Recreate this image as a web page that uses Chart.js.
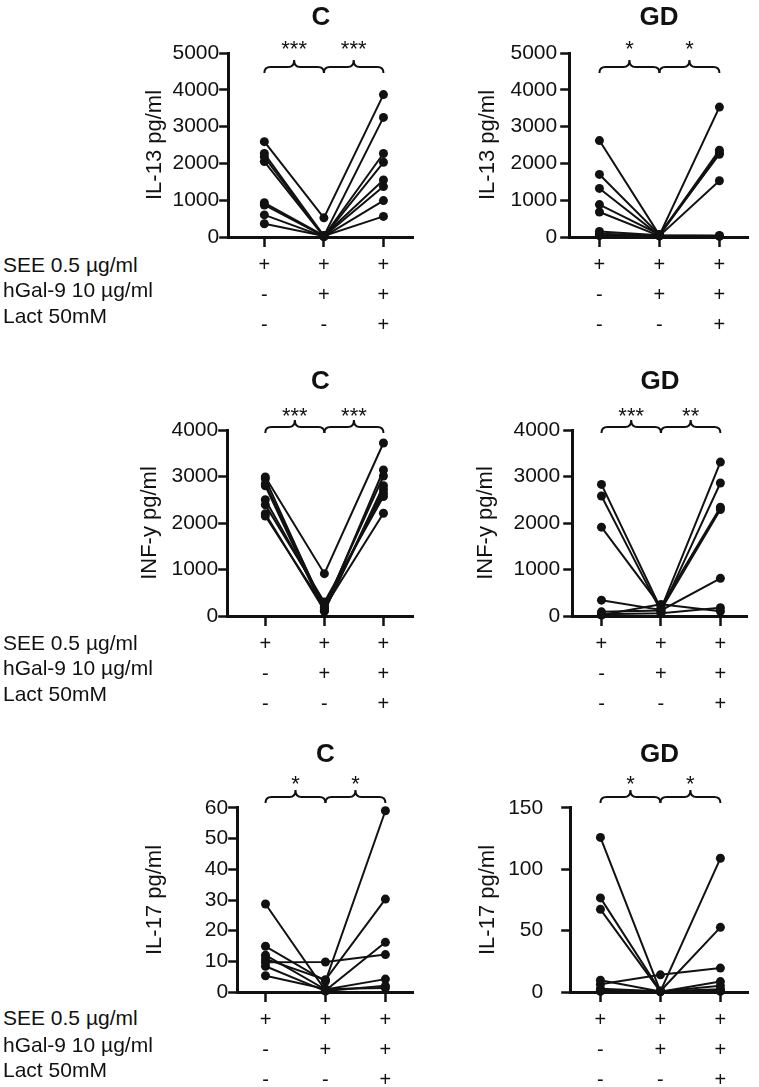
<!DOCTYPE html>
<html>
<head>
<meta charset="utf-8">
<script src="https://cdn.jsdelivr.net/npm/chart.js@4.4.1/dist/chart.umd.min.js"></script>
<style>
  body { margin: 0; background: #fff; width: 759px; height: 1087px; position: relative; overflow: hidden;
         font-family: "Liberation Sans", Arial, sans-serif; }
  .pan { position: absolute; }
  .lbl { position: absolute; left: 3px; font-size: 21px; line-height: 24px; color: #111; white-space: nowrap; }
</style>
</head>
<body>
<script>
// conditions (x categories) and the +/- table under each panel
const conditionNames = ['SEE 0.5 µg/ml', 'hGal-9 10 µg/ml', 'Lact 50mM'];
const categorySigns = [['+', '-', '-'], ['+', '+', '-'], ['+', '+', '+']];

// IL-13, C
const il13C_see  = [2590, 2270, 2180, 2050, 930, 870, 600, 360];
const il13C_gal  = [520, 30, 20, 10, 40, 20, 10, 30];
const il13C_lact = [3870, 3250, 2270, 2030, 1550, 1370, 990, 560];
// IL-13, GD
const il13GD_see  = [2620, 1700, 1320, 880, 680, 150, 90, 40];
const il13GD_gal  = [50, 60, 40, 70, 30, 50, 40, 30];
const il13GD_lact = [3530, 2360, 2290, 2250, 1530, 40, 30, 20];
// INF-y, C
const infC_see  = [2990, 2950, 2840, 2800, 2500, 2390, 2200, 2150];
const infC_gal  = [910, 150, 200, 100, 250, 300, 120, 180];
const infC_lact = [3720, 3140, 3010, 2800, 2640, 2570, 2720, 2210];
// INF-y, GD
const infGD_see  = [2830, 2580, 1910, 340, 90, 40, 20];
const infGD_gal  = [150, 100, 200, 130, 120, 60, 250];
const infGD_lact = [3310, 2860, 2340, 2290, 810, 180, 100];
// IL-17, C
const il17C_see  = [28.7, 14.9, 12.0, 10.8, 9.7, 8.4, 5.3];
const il17C_gal  = [0.5, 3.5, 0.8, 4.0, 9.8, 0.3, 1.0];
const il17C_lact = [16.2, 59.1, 4.2, 30.3, 12.2, 2.0, 1.3];
// IL-17, GD
const il17GD_see  = [126, 76.7, 67.4, 9.6, 6.3, 2.7, 1.4, 0.5];
const il17GD_gal  = [0.5, 0.8, 0.3, 0.5, 14, 0.6, 0.4, 0.3];
const il17GD_lact = [109, 52.7, 8.5, 5.0, 19.5, 2.2, 1.4, 0.5];

const starsIL13C = ['***', '***'];
const starsIL13GD = ['*', '*'];
const starsINFC = ['***', '***'];
const starsINFGD = ['***', '**'];
const starsIL17C = ['*', '*'];
const starsIL17GD = ['*', '*'];

// layout of each panel (page pixels)
const panels = [
  { title: 'C', yTitle: 'IL-13 pg/ml', data: [il13C_see, il13C_gal, il13C_lact], yMax: 5000, yStep: 1000, stars: starsIL13C,
    yTitleX: 155, right: 418, top: 0, height: 345, axisX: 228, chartTop: 53, chartBottom: 237, titleY: 18,
    xMin: -0.607, xMax: 2.508, braceY: 67, starY: 45, tickPad: 0 },
  { title: 'GD', yTitle: 'IL-13 pg/ml', data: [il13GD_see, il13GD_gal, il13GD_lact], yMax: 5000, yStep: 1000, stars: starsIL13GD,
    yTitleX: 488, right: 753, top: 0, height: 345, axisX: 569, chartTop: 53, chartBottom: 237, titleY: 18,
    xMin: -0.504, xMax: 2.488, braceY: 67, starY: 45, tickPad: 3 },
  { title: 'C', yTitle: 'INF-y pg/ml', data: [infC_see, infC_gal, infC_lact], yMax: 4000, yStep: 1000, stars: starsINFC,
    yTitleX: 150, right: 418, top: 350, height: 372, axisX: 227, chartTop: 430, chartBottom: 616, titleY: 382,
    xMin: -0.645, xMax: 2.512, braceY: 427, starY: 412, tickPad: 0 },
  { title: 'GD', yTitle: 'INF-y pg/ml', data: [infGD_see, infGD_gal, infGD_lact], yMax: 4000, yStep: 1000, stars: starsINFGD,
    yTitleX: 486, right: 752, top: 350, height: 372, axisX: 572, chartTop: 430, chartBottom: 616, titleY: 382,
    xMin: -0.492, xMax: 2.459, braceY: 427, starY: 412, tickPad: 3 },
  { title: 'C', yTitle: 'IL-17 pg/ml', data: [il17C_see, il17C_gal, il17C_lact], yMax: 60, yStep: 10, stars: starsIL17C,
    yTitleX: 155, right: 418, top: 725, height: 362, axisX: 237, chartTop: 808, chartBottom: 992, titleY: 755,
    xMin: -0.472, xMax: 2.472, braceY: 797, starY: 780, tickPad: 0 },
  { title: 'GD', yTitle: 'IL-17 pg/ml', data: [il17GD_see, il17GD_gal, il17GD_lact], yMax: 150, yStep: 50, stars: starsIL17GD,
    yTitleX: 488, right: 753, top: 725, height: 362, axisX: 570, chartTop: 808, chartBottom: 992, titleY: 755,
    xMin: -0.504, xMax: 2.472, braceY: 797, starY: 780, tickPad: 18 }
];
const labelRowsY = [[265, 290, 316], [643, 668, 694], [1018, 1045, 1070]];

const FONT = '"Liberation Sans", Arial, sans-serif';
const INK = '#111';

// curly brackets + significance stars above the pairs
const bracePlugin = {
  id: 'braces',
  afterDraw(chart) {
    const p = chart.options.plugins.braces;
    const ctx = chart.ctx;
    const x = chart.scales.x;
    ctx.save();
    ctx.strokeStyle = INK;
    ctx.lineWidth = 2;
    ctx.fillStyle = INK;
    ctx.font = '22px ' + FONT;
    ctx.textAlign = 'center';
    ctx.textBaseline = 'middle';
    [[0, 1], [1, 2]].forEach(([a, b], i) => {
      const xa = x.getPixelForValue(a), xb = x.getPixelForValue(b), xm = (xa + xb) / 2;
      const y = p.y, r = 6;
      ctx.beginPath();
      ctx.moveTo(xa, y + r);
      ctx.quadraticCurveTo(xa, y, xa + r, y);
      ctx.lineTo(xm - r, y);
      ctx.quadraticCurveTo(xm, y, xm, y - r - 1);
      ctx.quadraticCurveTo(xm, y, xm + r, y);
      ctx.lineTo(xb - r, y);
      ctx.quadraticCurveTo(xb, y, xb, y + r);
      ctx.stroke();
      ctx.fillText(p.stars[i], xm, p.starY + 5);
    });
    ctx.restore();
  }
};

panels.forEach(p => {
  const left = p.yTitleX - 15.2;
  const canvasW = p.right - left;
  const wrap = document.createElement('div');
  wrap.className = 'pan';
  wrap.style.left = left + 'px';
  wrap.style.top = p.top + 'px';
  wrap.style.width = canvasW + 'px';
  wrap.style.height = p.height + 'px';
  const canvas = document.createElement('canvas');
  wrap.appendChild(canvas);
  document.body.appendChild(wrap);

  const [see, gal, lact] = p.data;
  const datasets = see.map((v, i) => ({
    data: [{ x: 0, y: v }, { x: 1, y: gal[i] }, { x: 2, y: lact[i] }],
    borderColor: INK,
    backgroundColor: INK,
    borderWidth: 2,
    pointRadius: 4.5,
    pointBorderWidth: 0,
    pointHoverRadius: 4.5,
    clip: false
  }));

  const titlePadTop = p.titleY - p.top - 15.6;
  const titlePadBottom = p.chartTop - p.top - titlePadTop - 31.2;
  const yWidth = p.axisX - left;
  const xHeight = p.top + p.height - p.chartBottom;

  new Chart(canvas, {
    type: 'line',
    data: { datasets },
    options: {
      responsive: true,
      maintainAspectRatio: false,
      animation: false,
      events: [],
      layout: { padding: 0 },
      plugins: {
        legend: { display: false },
        tooltip: { enabled: false },
        title: {
          display: true, text: p.title, fullSize: false, color: INK,
          font: { family: FONT, size: 26, weight: 'bold', lineHeight: 1.2 },
          padding: { top: titlePadTop, bottom: titlePadBottom }
        },
        braces: { y: p.braceY - p.top, starY: p.starY - p.top, stars: p.stars }
      },
      scales: {
        x: {
          type: 'linear', min: p.xMin, max: p.xMax,
          afterBuildTicks: axis => { axis.ticks = [0, 1, 2].map(v => ({ value: v })); },
          afterFit: axis => { axis.height = xHeight; },
          border: { display: true, color: INK, width: 3 },
          grid: { drawOnChartArea: false, drawTicks: true, tickLength: 10, tickWidth: 2.5, tickColor: INK },
          ticks: {
            autoSkip: false, maxRotation: 0, padding: 3, color: INK,
            font: { family: FONT, size: 20, lineHeight: 1.5 },
            callback: v => categorySigns[v].map(s => s)
          }
        },
        y: {
          min: 0, max: p.yMax,
          afterBuildTicks: axis => {
            const t = [];
            for (let v = 0; v <= p.yMax; v += p.yStep) t.push({ value: v });
            axis.ticks = t;
          },
          afterFit: axis => { axis.width = yWidth; },
          border: { display: true, color: INK, width: 3 },
          grid: { drawOnChartArea: false, drawTicks: true, tickLength: 9, tickWidth: 2.5, tickColor: INK },
          ticks: { padding: p.tickPad, color: INK, font: { family: FONT, size: 21 }, callback: v => String(v) },
          title: {
            display: true, text: p.yTitle, color: INK,
            font: { family: FONT, size: 22, lineHeight: 1.2 },
            padding: { top: 2, bottom: 0 }
          }
        }
      }
    },
    plugins: [bracePlugin]
  });
});

// row labels on the left
labelRowsY.forEach(row => {
  row.forEach((cy, i) => {
    const d = document.createElement('div');
    d.className = 'lbl';
    d.style.top = (cy - 12) + 'px';
    d.textContent = conditionNames[i];
    document.body.appendChild(d);
  });
});
</script>
</body>
</html>
